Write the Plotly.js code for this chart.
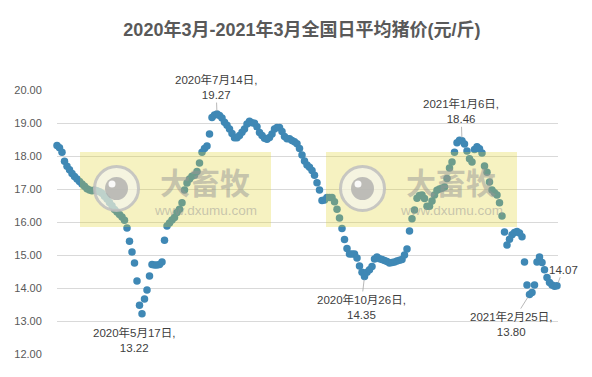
<!DOCTYPE html>
<html>
<head>
<meta charset="utf-8">
<script src="https://cdn.plot.ly/plotly-3.0.1.min.js"></script>
<style>
  html, body { margin: 0; padding: 0; background: #ffffff; }
  #chart { width: 592px; height: 377px; }
</style>
</head>
<body>
<div id="chart"></div>
<script>
// ---- data (one value per plotted point, in order) ----
const prices = [
  18.32, 18.25, 18.11, 17.84, 17.69, 17.58, 17.47, 17.38, 17.30, 17.23,
  17.15, 17.08, 17.01, 16.97, 16.95, 16.97, 16.95, 16.92, 16.87, 16.78,
  16.70, 16.59, 16.49, 16.38, 16.30, 16.23, 16.15, 16.05, 15.82, 15.42,
  15.09, 14.76, 14.21, 13.48, 13.22, 13.67, 13.94, 14.36, 14.71, 14.70,
  14.70, 14.71, 14.79, 15.45, 15.88, 15.97, 16.06, 16.14, 16.29, 16.39,
  16.58, 16.97, 17.18, 17.30, 17.39, 17.42, 17.53, 17.79, 18.11, 18.23,
  18.30, 18.67, 19.17, 19.24, 19.27, 19.23, 19.15, 19.02, 18.93, 18.82,
  18.68, 18.55, 18.55, 18.62, 18.72, 18.82, 18.97, 19.05, 19.01, 18.99,
  18.89, 18.71, 18.62, 18.54, 18.51, 18.56, 18.67, 18.82, 18.86, 18.86,
  18.74, 18.59, 18.52, 18.52, 18.47, 18.43, 18.37, 18.23, 18.03, 17.85,
  17.73, 17.66, 17.56, 17.42, 17.19, 16.97, 16.65, 16.67, 16.74, 16.74,
  16.74, 16.61, 16.39, 16.12, 15.80, 15.47, 15.20, 15.03, 15.03, 15.03,
  14.91, 14.67, 14.48, 14.35, 14.48, 14.55, 14.65, 14.88, 14.94, 14.89,
  14.86, 14.83, 14.80, 14.76, 14.77, 14.79, 14.82, 14.84, 14.86, 15.00,
  15.18, 15.73, 16.10, 16.36, 16.72, 16.80, 16.82, 16.71, 16.48, 16.48,
  16.64, 16.82, 16.96, 17.00, 17.02, 17.06, 17.32, 17.64, 17.82, 18.11,
  18.40, 18.48, 18.46, 18.36, 18.15, 17.92, 17.82, 18.20, 18.28, 18.22,
  18.09, 17.70, 17.51, 17.21, 16.97, 16.89, 16.82, 16.58, 16.18, 15.70,
  15.30, 15.48, 15.61, 15.68, 15.71, 15.67, 15.55, 14.79, 14.09, 13.80,
  13.86, 14.09, 14.79, 14.94, 14.77, 14.55, 14.32, 14.17, 14.09, 14.05, 14.07
];

// labelled points
const noteDates  = ['2020年5月17日', '2020年7月14日', '2020年10月26日', '2021年1月6日', '2021年2月25日', ''];
const noteValues = [13.22, 19.27, 14.35, 18.46, 13.80, 14.07];

// y-axis ticks
const yTicks = [12, 13, 14, 15, 16, 17, 18, 19, 20];

const chartTitle = '2020年3月-2021年3月全国日平均猪价(元/斤)';
const watermarkName = '大畜牧';
const watermarkUrl = 'www.dxumu.com';

// ---- presentation ----
const FONT = '"Liberation Sans", Arial, "Noto Sans CJK SC", sans-serif';
const CJK  = '"Noto Sans CJK SC", "Liberation Sans", sans-serif';
const dotColor = '#3f88b5';

const idx = prices.map((_, i) => i);

const trace = {
  type: 'scatter',
  mode: 'markers',
  x: idx,
  y: prices,
  cliponaxis: false,
  marker: { color: dotColor, size: 7.5, line: { width: 0 } },
  hoverinfo: 'skip'
};

// label placement (pixel offsets from the labelled point)
const notePlacement = [
  { arrow: false, xshift: -8, yshift: -26 },
  { arrow: true, ax: -1, ay: -27 },
  { arrow: true, ax: -3.5, ay: 30.5 },
  { arrow: true, ax: -1, ay: -29.5 },
  { arrow: true, ax: -18.5, ay: 29.5 },
  { arrow: true, ax: 6, ay: -16 }
];

const annotations = noteValues.map((v, k) => {
  const i = prices.indexOf(v);
  const p = notePlacement[k];
  const txt = noteDates[k] ? noteDates[k] + ',<br>' + v.toFixed(2) : v.toFixed(2);
  const a = {
    xref: 'x', yref: 'y', x: i, y: prices[i],
    text: txt,
    font: { family: FONT, size: 11.5, color: '#404040' },
    align: 'center'
  };
  if (p.arrow) {
    Object.assign(a, { showarrow: true, ax: p.ax, ay: p.ay, arrowhead: 0,
      arrowwidth: 0.8, arrowcolor: '#a6a6a6', standoff: 3 });
  } else {
    Object.assign(a, { showarrow: false, xshift: p.xshift, yshift: p.yshift });
  }
  return a;
});

// watermark (two identical stamps)
const plotL = 57, plotW = 501, plotB = 354, plotH = 264;
const px = v => (v - plotL) / plotW;
const py = v => (plotB - v) / plotH;
const shapes = [];
[0, 246].forEach(dx => {
  shapes.push({ type: 'rect', xref: 'paper', yref: 'paper', layer: 'above',
    x0: px(80 + dx), x1: px(271 + dx), y0: py(227), y1: py(152),
    fillcolor: 'rgba(225,210,40,0.29)', line: { width: 0 } });
  const cx = px(116.5 + dx), cy = py(188.5);
  shapes.push({ type: 'circle', xref: 'paper', yref: 'paper', layer: 'above',
    xsizemode: 'pixel', ysizemode: 'pixel', xanchor: cx, yanchor: cy,
    x0: -22, x1: 22, y0: -22, y1: 22,
    fillcolor: 'rgba(245,245,245,0.6)', line: { color: 'rgba(190,190,190,0.85)', width: 3 } });
  shapes.push({ type: 'circle', xref: 'paper', yref: 'paper', layer: 'above',
    xsizemode: 'pixel', ysizemode: 'pixel', xanchor: cx, yanchor: cy,
    x0: -11.5, x1: 11.5, y0: -11.5, y1: 11.5,
    fillcolor: 'rgba(170,170,170,0.75)', line: { width: 0 } });
  shapes.push({ type: 'circle', xref: 'paper', yref: 'paper', layer: 'above',
    xsizemode: 'pixel', ysizemode: 'pixel', xanchor: cx, yanchor: cy,
    x0: -8, x1: -1, y0: 1, y1: 8,
    fillcolor: 'rgba(255,255,255,0.9)', line: { width: 0 } });
  annotations.push({ xref: 'paper', yref: 'paper', x: px(205 + dx), y: py(181),
    xanchor: 'center', yanchor: 'middle', showarrow: false, text: watermarkName,
    font: { family: CJK, size: 30, color: 'rgba(150,150,150,0.5)', weight: 700 } });
  annotations.push({ xref: 'paper', yref: 'paper', x: px(205 + dx), y: py(210),
    xanchor: 'center', yanchor: 'middle', showarrow: false, text: watermarkUrl,
    font: { family: FONT, size: 13.5, color: 'rgba(150,150,150,0.5)' } });
});

const layout = {
  width: 592, height: 377,
  margin: { l: 57, r: 34, t: 90, b: 23, pad: 0 },
  paper_bgcolor: '#ffffff', plot_bgcolor: 'rgba(0,0,0,0)',
  showlegend: false,
  title: {
    text: chartTitle, x: 0.51, xanchor: 'center', y: 1 - 30 / 377, yref: 'container', yanchor: 'middle',
    font: { family: FONT, size: 18, color: '#595959', weight: 700 }
  },
  xaxis: { range: [0, 200.4], showgrid: false, zeroline: false, showticklabels: false, showline: false, ticks: '' },
  yaxis: {
    range: [12, 20], tickvals: yTicks, tickformat: '.2f',
    showgrid: true, gridcolor: '#d9d9d9', gridwidth: 1, zeroline: false, showline: false,
    ticks: 'outside', ticklen: 12, tickcolor: 'rgba(0,0,0,0)',
    tickfont: { family: FONT, size: 11, color: '#595959' }
  },
  shapes: shapes,
  annotations: annotations
};

Plotly.newPlot('chart', [trace], layout, { staticPlot: true, displayModeBar: false });
</script>
</body>
</html>
